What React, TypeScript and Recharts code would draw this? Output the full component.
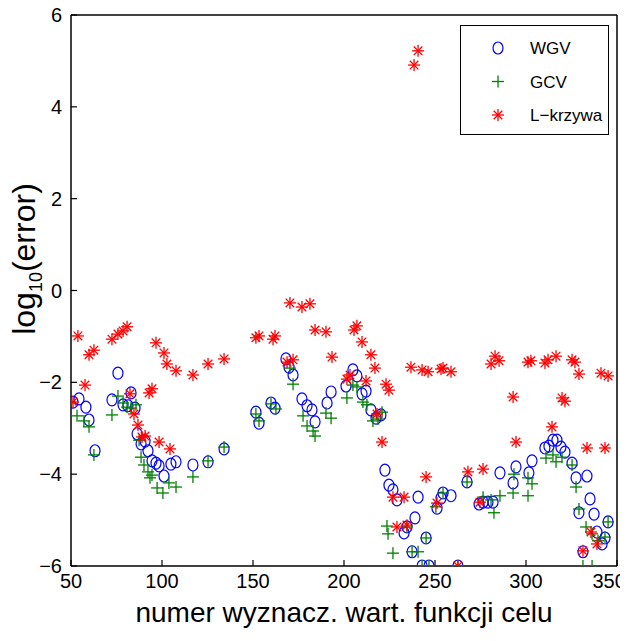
import React from "react";
import { ScatterChart, Scatter, XAxis, YAxis, Legend } from "recharts";

// ---- data ----
const xTicks = [50, 100, 150, 200, 250, 300, 350];
const yTicks = [-6, -4, -2, 0, 2, 4, 6];
const frameCorners = [{ x: 50, y: -6 }, { x: 350, y: 6 }];

const wgvPts: [number, number][] = [
  [51.1, -2.43], [54.4, -2.36], [58.2, -2.54], [59.9, -2.82], [63.2, -3.49],
  [72.5, -2.38], [75.8, -1.8], [78.6, -2.49], [81.3, -2.51], [83.0, -2.23],
  [85.2, -2.56], [86.3, -3.12], [88.5, -3.34], [90.7, -3.28], [92.3, -3.49],
  [94.5, -3.71], [96.7, -3.76], [98.4, -3.82], [101.1, -4.04], [104.9, -3.78],
  [107.7, -3.73], [117.0, -3.8], [125.3, -3.73], [134.1, -3.45], [151.6, -2.65],
  [153.3, -2.89], [159.9, -2.45], [162.1, -2.56], [168.1, -1.49], [169.8, -1.67],
  [172.0, -1.84], [176.9, -2.36], [179.7, -2.51], [182.4, -2.6], [184.1, -2.86],
  [190.7, -2.45], [192.9, -2.21], [201.1, -2.08], [204.9, -1.73], [207.1, -1.86],
  [209.9, -2.25], [212.1, -2.19], [214.8, -2.6], [217.6, -2.78], [220.3, -2.71],
  [222.5, -3.91], [224.7, -4.24], [226.9, -4.34], [229.1, -4.56], [233.0, -5.28],
  [234.6, -5.15], [237.4, -5.69], [239.0, -4.95], [240.7, -4.5], [242.9, -6.0],
  [245.1, -5.39], [246.7, -6.0], [251.1, -4.74], [253.3, -4.52], [254.4, -4.41],
  [258.8, -4.47], [262.6, -6.0], [267.6, -4.17], [274.2, -4.65], [276.4, -4.61],
  [279.1, -4.61], [281.9, -4.61], [285.7, -3.97], [292.9, -4.19], [294.5, -3.84],
  [301.6, -3.97], [303.3, -3.71], [310.4, -3.43], [312.6, -3.39], [314.8, -3.26],
  [317.0, -3.26], [319.2, -3.41], [321.4, -3.52], [325.3, -3.76], [327.5, -4.08],
  [329.1, -4.84], [331.3, -5.69], [333.5, -4.04], [335.2, -4.54], [337.4, -4.87],
  [339.0, -5.26], [341.8, -5.52], [343.4, -5.39], [345.1, -5.04],
];

const gcvPts: [number, number][] = [
  [53.3, -2.73], [57.1, -2.84], [59.9, -2.97], [62.6, -3.58], [72.5, -2.71],
  [75.8, -2.3], [78.6, -2.45], [80.8, -2.54], [83.0, -2.56], [85.7, -2.49],
  [87.4, -3.26], [88.5, -3.63], [90.1, -3.8], [92.3, -3.95], [93.4, -4.08],
  [94.5, -4.02], [97.3, -4.3], [100.5, -4.41], [103.8, -4.19], [107.7, -4.28],
  [117.0, -4.06], [125.3, -3.71], [134.1, -3.41], [151.6, -2.69], [153.3, -2.84],
  [159.9, -2.47], [162.6, -2.58], [170.3, -1.69], [172.0, -2.04], [177.5, -2.73],
  [179.7, -2.95], [183.0, -3.06], [184.1, -3.17], [190.1, -2.67], [192.9, -2.78],
  [201.6, -2.34], [204.9, -2.06], [207.1, -2.1], [210.4, -2.43], [212.6, -2.49],
  [215.9, -2.84], [218.7, -2.8], [220.9, -2.65], [223.6, -5.13], [224.2, -5.3],
  [226.9, -5.72], [234.6, -5.15], [237.4, -5.69], [240.7, -5.69], [242.9, -6.0],
  [245.1, -5.39], [246.7, -6.0], [250.5, -4.71], [254.4, -4.41], [262.6, -6.0],
  [267.6, -4.17], [276.4, -4.5], [280.8, -4.56], [282.4, -4.84], [285.7, -4.47],
  [292.9, -4.41], [293.4, -4.0], [301.1, -4.47], [301.1, -4.08], [303.3, -4.21],
  [311.0, -3.65], [314.8, -3.58], [316.5, -3.73], [319.8, -3.63], [325.3, -3.8],
  [327.5, -4.28], [329.1, -4.76], [331.3, -6.0], [333.0, -5.15], [336.3, -5.3],
  [336.3, -6.0], [339.6, -5.45], [343.4, -5.37], [345.1, -5.04],
];

const lcurvePts: [number, number][] = [
  [51.1, -2.43], [53.8, -0.99], [57.7, -2.06], [59.9, -1.4], [62.6, -1.3],
  [72.5, -1.06], [75.8, -0.95], [78.6, -0.88], [80.8, -0.79], [82.4, -2.25],
  [84.6, -2.69], [86.8, -2.93], [89.0, -3.19], [90.7, -3.17], [92.9, -2.23],
  [94.5, -2.14], [96.7, -1.14], [98.4, -3.3], [101.1, -1.36], [102.7, -1.6],
  [104.4, -3.45], [107.7, -1.75], [117.0, -1.84], [125.3, -1.6], [134.1, -1.49],
  [151.6, -1.03], [153.3, -0.99], [161.0, -1.06], [162.1, -0.99], [168.7, -1.56],
  [170.3, -0.27], [172.0, -1.51], [176.9, -0.36], [181.3, -0.29], [184.1, -0.86],
  [190.1, -0.9], [193.4, -1.45], [201.6, -1.93], [203.3, -1.84], [205.5, -0.86],
  [207.1, -0.77], [209.9, -1.12], [212.1, -1.97], [214.8, -1.4], [217.0, -1.69],
  [218.1, -2.69], [220.9, -3.3], [223.1, -2.04], [224.7, -2.17], [226.9, -4.5],
  [229.1, -5.15], [233.0, -4.5], [234.6, -5.11], [236.8, -1.67], [238.5, 4.91],
  [240.7, 5.22], [242.9, -1.73], [245.1, -4.06], [246.2, -1.77], [251.1, -4.63],
  [253.3, -1.71], [254.4, -1.69], [258.8, -1.77], [262.6, -6.0], [268.1, -3.95],
  [274.7, -4.61], [276.4, -3.89], [280.8, -1.6], [283.0, -1.43], [285.2, -1.53],
  [292.9, -2.32], [294.5, -3.3], [301.1, -1.56], [302.7, -1.53], [310.4, -1.58],
  [312.1, -1.51], [314.3, -2.97], [316.5, -1.43], [319.8, -2.34], [321.4, -2.41],
  [325.3, -1.51], [326.9, -1.56], [329.1, -1.82], [331.3, -5.67], [333.5, -3.43],
  [335.7, -5.26], [339.0, -5.52], [341.2, -1.8], [343.4, -3.43], [345.1, -1.86],
];

const seriesNames = ["WGV", "GCV", "L\u2212krzywa"];

const toObj = (pts: [number, number][]) => pts.map(([x, y]) => ({ x, y }));
const wgvData = toObj(wgvPts);
const gcvData = toObj(gcvPts);
const lcurveData = toObj(lcurvePts);

const BLUE = "#0000ff";
const GREEN = "#008000";
const RED = "#ff0000";
const FONT = "'Liberation Sans', Arial, Helvetica, sans-serif";
const W = 628;
const H = 641;

const CircleMark = (p: any) => (
  <ellipse cx={p.cx} cy={p.cy} rx={5} ry={6} fill="none" stroke={BLUE} strokeWidth={1.2} />
);
const PlusMark = (p: any) => (
  <g stroke={GREEN} strokeWidth={1.3}>
    <line x1={p.cx - 6} y1={p.cy} x2={p.cx + 6} y2={p.cy} />
    <line x1={p.cx} y1={p.cy - 6} x2={p.cx} y2={p.cy + 6} />
  </g>
);
const StarMark = (p: any) => (
  <g stroke={RED} strokeWidth={1.3}>
    <line x1={p.cx - 6} y1={p.cy} x2={p.cx + 6} y2={p.cy} />
    <line x1={p.cx} y1={p.cy - 6} x2={p.cx} y2={p.cy + 6} />
    <line x1={p.cx - 4.3} y1={p.cy - 4.3} x2={p.cx + 4.3} y2={p.cy + 4.3} />
    <line x1={p.cx - 4.3} y1={p.cy + 4.3} x2={p.cx + 4.3} y2={p.cy - 4.3} />
  </g>
);
const NoMark = () => <g />;

const fmt = (v: number) => String(v).replace("-", "\u2212");

const XTick = (props: any) => {
  const label = fmt(props.payload.value);
  const w = label.length * 11.2;
  let x = props.x;
  if (x + w / 2 > W - 2) x = W - 2 - w / 2;
  return (
    <text x={x} y={props.y} dy="0.72em" textAnchor="middle" fontFamily={FONT} fontSize={20} fill="#000">
      {label}
    </text>
  );
};

const LegendBox = () => {
  const rows = [
    { name: seriesNames[0], Mark: CircleMark },
    { name: seriesNames[1], Mark: PlusMark },
    { name: seriesNames[2], Mark: StarMark },
  ];
  return (
    <svg width={150} height={111} style={{ display: "block" }}>
      <rect x={0.5} y={0.5} width={148} height={109} fill="#fff" stroke="#000" strokeWidth={1} />
      {rows.map((r, i) => (
        <g key={r.name}>
          <r.Mark cx={38} cy={23 + i * 33.5} />
          <text x={70} y={23 + i * 33.5 + 6} fontFamily={FONT} fontSize={17} fill="#000">
            {r.name}
          </text>
        </g>
      ))}
    </svg>
  );
};

const YLabel = () => {
  const cx = 35;
  const cy = 259;
  return (
    <text
      x={cx}
      y={cy}
      transform={`rotate(-90, ${cx}, ${cy})`}
      textAnchor="middle"
      fontFamily={FONT}
      fontSize={32}
      fill="#000"
    >
      log
      <tspan fontSize={18} dy={7}>10</tspan>
      <tspan dy={-7}>(error)</tspan>
    </text>
  );
};

const XLabel = (props: any) => {
  const vb = props.viewBox || {};
  return (
    <text
      x={vb.x + vb.width / 2}
      y={vb.y + 56}
      textAnchor="middle"
      fontFamily={FONT}
      fontSize={28}
      fill="#000"
    >
      numer wyznacz. wart. funkcji celu
    </text>
  );
};

const tickStyle = { fontFamily: FONT, fontSize: 20, fill: "#000" };
const axisLine = { stroke: "#000", strokeWidth: 1.5 };
const tickLine = { stroke: "#000", strokeWidth: 1.2 };

export default function App() {
  return (
    <div style={{ width: W, height: H, background: "#fff", margin: "-8px 0 0 -8px" }}>
      <ScatterChart
        width={W}
        height={H}
        margin={{ top: 14, right: 10, bottom: 0, left: 0 }}
        style={{ background: "#fff" }}
      >
        <XAxis
          xAxisId="b"
          type="number"
          dataKey="x"
          domain={[50, 350]}
          ticks={xTicks}
          allowDataOverflow
          height={75}
          orientation="bottom"
          tickSize={-6}
          tickMargin={14}
          tick={<XTick />}
          axisLine={axisLine}
          tickLine={tickLine}
          label={<XLabel />}
        />
        <XAxis
          xAxisId="t"
          type="number"
          dataKey="x"
          domain={[50, 350]}
          ticks={xTicks}
          allowDataOverflow
          height={1}
          orientation="top"
          tickSize={-6}
          tick={false}
          axisLine={axisLine}
          tickLine={tickLine}
        />
        <YAxis
          yAxisId="l"
          type="number"
          dataKey="y"
          domain={[-6, 6]}
          ticks={yTicks}
          allowDataOverflow
          width={71}
          orientation="left"
          tickSize={-6}
          tickMargin={15}
          tick={tickStyle}
          tickFormatter={fmt}
          axisLine={axisLine}
          tickLine={tickLine}
          label={<YLabel />}
        />
        <YAxis
          yAxisId="r"
          type="number"
          dataKey="y"
          domain={[-6, 6]}
          ticks={yTicks}
          allowDataOverflow
          width={1}
          orientation="right"
          tickSize={-6}
          tick={false}
          axisLine={axisLine}
          tickLine={tickLine}
        />
        <Scatter xAxisId="t" yAxisId="r" data={frameCorners} shape={NoMark} isAnimationActive={false} legendType="none" />
        <Scatter xAxisId="b" yAxisId="l" name={seriesNames[0]} data={wgvData} shape={CircleMark} isAnimationActive={false} />
        <Scatter xAxisId="b" yAxisId="l" name={seriesNames[1]} data={gcvData} shape={PlusMark} isAnimationActive={false} />
        <Scatter xAxisId="b" yAxisId="l" name={seriesNames[2]} data={lcurveData} shape={StarMark} isAnimationActive={false} />
        <Legend
          layout="vertical"
          align="center"
          verticalAlign="middle"
          content={<LegendBox />}
          wrapperStyle={{ left: 460, top: 25, width: 150, height: 111 }}
        />
      </ScatterChart>
    </div>
  );
}
